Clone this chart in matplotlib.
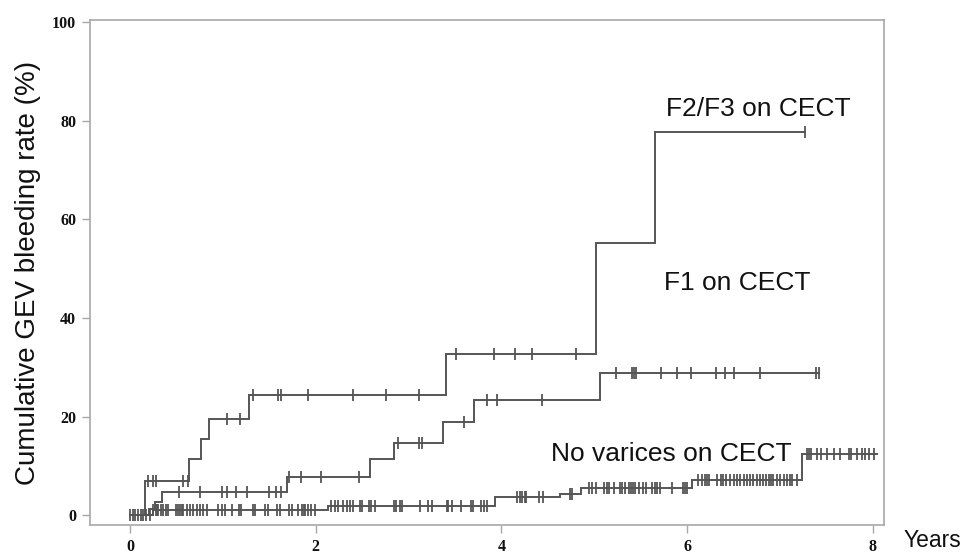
import matplotlib
matplotlib.use("Agg")
import matplotlib.pyplot as plt
import numpy as np

# ---- data (years, cumulative %) ----
f23_event_t = [0, 0.16, 0.64, 0.76, 0.85, 1.28, 3.40, 5.02, 5.65]
f23_event_y = [0, 7.0, 11.3, 15.5, 19.4, 24.3, 32.6, 55.1, 77.6]
f23_end = 7.27
f23_censor = [0.19, 0.25, 0.28, 0.57, 0.62, 1.04, 1.19, 1.32, 1.59, 1.63, 1.92,
              2.40, 2.76, 3.11, 3.51, 3.92, 4.15, 4.33, 4.80, 7.27]

f1_event_t = [0, 0.21, 0.27, 0.34, 1.69, 2.58, 2.84, 3.37, 3.71, 5.06]
f1_event_y = [0, 1.2, 2.6, 4.7, 7.8, 11.3, 14.7, 18.9, 23.4, 28.9]
f1_end = 7.42
f1_censor = [0.53, 0.75, 0.99, 1.04, 1.14, 1.26, 1.50, 1.57, 1.63, 1.71, 1.84,
             2.06, 2.47, 2.89, 3.11, 3.15, 3.60, 3.84, 3.95, 4.44, 5.23, 5.41,
             5.43, 5.45, 5.72, 5.89, 6.04, 6.31, 6.41, 6.51, 6.78, 7.39, 7.42]

nv_event_t = [0, 0.25, 2.13, 3.93, 4.63, 4.86, 6.05, 7.24]
nv_event_y = [0, 1.0, 1.9, 3.6, 4.3, 5.5, 7.1, 12.5]
nv_end = 8.04
nv_censor = [0.00, 0.03, 0.05, 0.09, 0.12, 0.14, 0.17, 0.22, 0.25, 0.28, 0.29,
             0.30, 0.33, 0.36, 0.39, 0.41, 0.50, 0.52, 0.54, 0.56, 0.57, 0.61,
             0.65, 0.68, 0.72, 0.75, 0.79, 0.83, 0.95, 0.99, 1.02, 1.10, 1.17,
             1.20, 1.32, 1.35, 1.45, 1.49, 1.58, 1.62, 1.71, 1.74, 1.81, 1.85,
             1.87, 1.89, 1.92, 1.95, 1.99, 2.17, 2.21, 2.24, 2.29, 2.34, 2.37,
             2.40, 2.48, 2.50, 2.57, 2.60, 2.64, 2.84, 2.87, 2.91, 2.93, 3.12,
             3.21, 3.25, 3.41, 3.43, 3.47, 3.57, 3.67, 3.69, 3.78, 3.81, 3.85,
             4.17, 4.20, 4.22, 4.25, 4.27, 4.41, 4.45, 4.74, 4.76, 4.94, 4.98,
             5.02, 5.11, 5.14, 5.16, 5.21, 5.28, 5.30, 5.33, 5.37, 5.40, 5.42,
             5.44, 5.48, 5.52, 5.56, 5.62, 5.65, 5.68, 5.71, 5.84, 5.96, 5.98,
             6.00, 6.12, 6.16, 6.19, 6.21, 6.24, 6.32, 6.37, 6.39, 6.42, 6.46,
             6.50, 6.54, 6.57, 6.61, 6.65, 6.68, 6.71, 6.75, 6.79, 6.82, 6.85,
             6.88, 6.90, 6.93, 6.97, 7.00, 7.04, 7.08, 7.11, 7.13, 7.18, 7.29,
             7.31, 7.33, 7.40, 7.44, 7.51, 7.58, 7.65, 7.74, 7.76, 7.83, 7.88,
             7.92, 7.96, 8.01]

group_labels = ["F2/F3 on CECT", "F1 on CECT", "No varices on CECT"]
x_ticks = [0, 2, 4, 6, 8]
y_ticks = [0, 20, 40, 60, 80, 100]

LINE = "#555555"
FRAME = "#a8a8a8"

fig = plt.figure(figsize=(9.74, 5.53), dpi=100)
ax = fig.add_axes([0.0924, 0.0506, 0.8152, 0.9132])


def draw(ev_t, ev_y, end, cens):
    t = list(ev_t) + [end]
    y = list(ev_y) + [ev_y[-1]]
    ax.step(t, y, where="post", color=LINE, lw=1.4, solid_joinstyle="miter")
    ev_t_arr = np.asarray(ev_t)
    ev_y_arr = np.asarray(ev_y)
    c = np.asarray(cens)
    idx = np.searchsorted(ev_t_arr, c, side="right") - 1
    ax.plot(c, ev_y_arr[idx], ls="none", marker="|", ms=8, mew=1.3, color=LINE)


draw(nv_event_t, nv_event_y, nv_end, nv_censor)
draw(f1_event_t, f1_event_y, f1_end, f1_censor)
draw(f23_event_t, f23_event_y, f23_end, f23_censor)

ax.set_xlim(-0.43, 8.12)
ax.set_ylim(-2.0, 100.4)
ax.set_xticks(x_ticks)
ax.set_yticks(y_ticks)
ax.set_xticklabels([str(v) for v in x_ticks])
ax.set_yticklabels([str(v) for v in y_ticks])
for lab in ax.get_xticklabels() + ax.get_yticklabels():
    lab.set_family("Liberation Serif")
    lab.set_fontweight("bold")
    lab.set_fontsize(11.5)
    lab.set_color("#111111")
ax.tick_params(axis="both", direction="out", length=6, width=1.0, color=FRAME, pad=4)
for s in ax.spines.values():
    s.set_color(FRAME)
    s.set_linewidth(1.2)

txt = dict(family="Liberation Sans", fontsize=19, color="#111111")
ax.text(5.77, 82.4, group_labels[0], va="center", ha="left", **txt)
ax.text(5.75, 47.0, group_labels[1], va="center", ha="left", **txt)
ax.text(4.53, 12.4, group_labels[2], va="center", ha="left", **txt)
ax.text(8.33, -5.1, "Years", va="center", ha="left", clip_on=False,
        family="Liberation Sans", fontsize=16.5, color="#111111")

ax.set_ylabel("Cumulative GEV bleeding rate (%)", family="Liberation Sans",
              fontsize=20, color="#111111")
ax.yaxis.set_label_coords(-0.062, 0.5)

fig.savefig("out.png", dpi=100)
